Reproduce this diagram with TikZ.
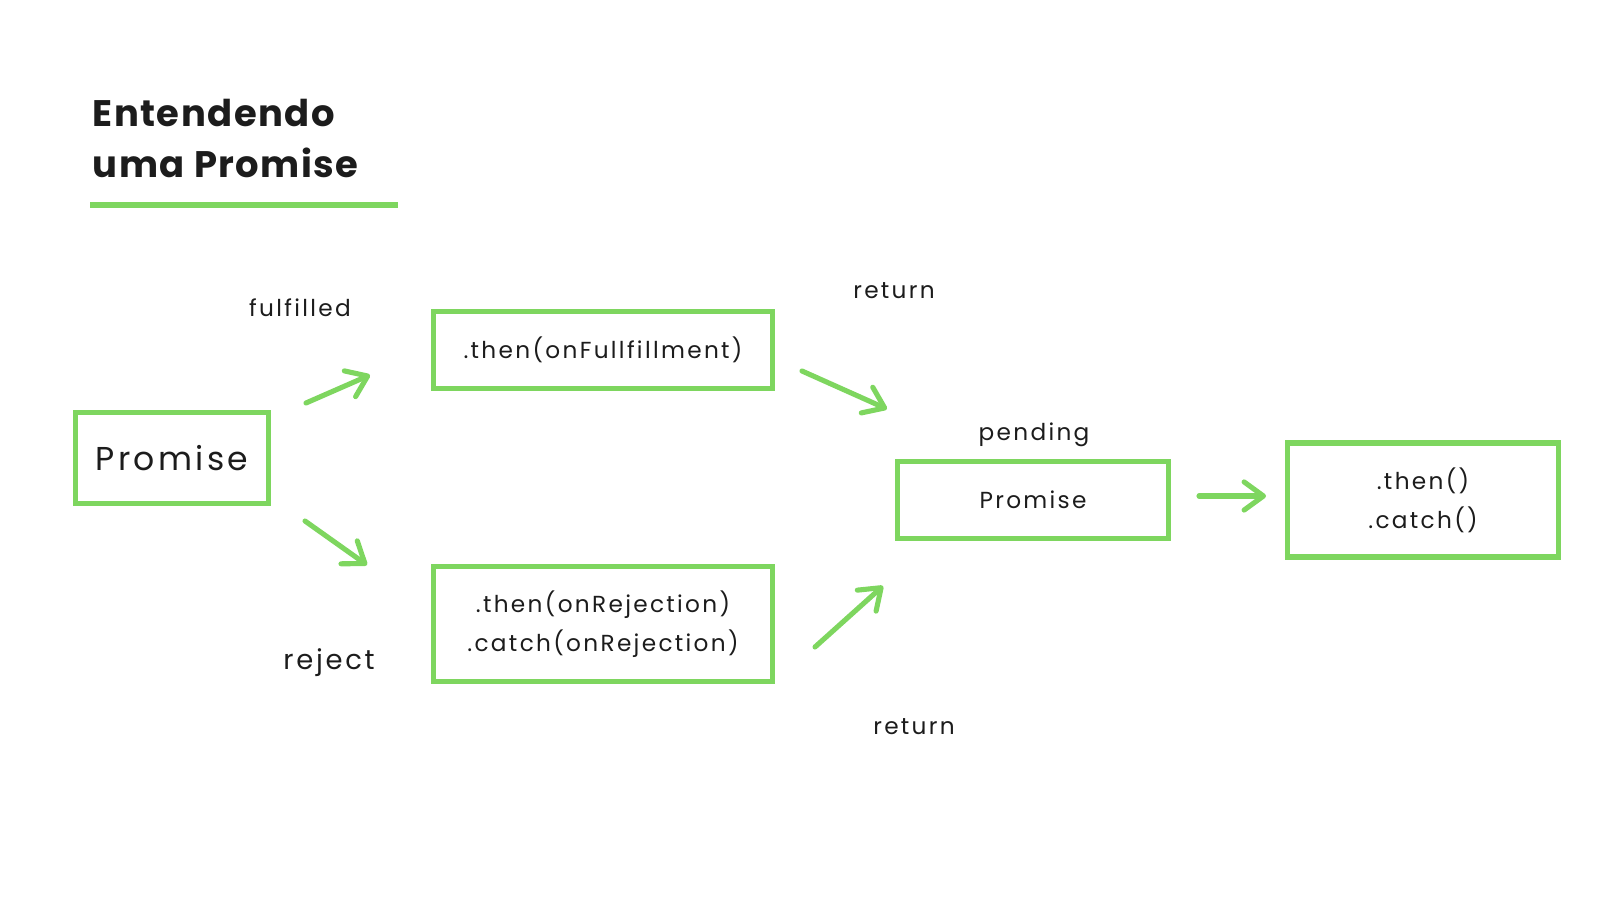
\documentclass[tikz,border=0pt]{standalone}
\usepackage{fontspec}
\setmainfont{Poppins}[LetterSpace=10]
\newfontfamily\titlefont{Poppins}[UprightFont=* Bold,LetterSpace=4]
\usetikzlibrary{arrows.meta}
\definecolor{promgreen}{RGB}{126,214,95}
\definecolor{inkblack}{RGB}{28,28,28}

\begin{document}
\begin{tikzpicture}[x=0.01cm,y=-0.01cm]
\tikzstyle{pbox}=[rectangle,draw=promgreen,line width=1.45pt,inner sep=0pt,align=center,text=inkblack,font=\fontsize{6.6}{11}\selectfont]
\tikzstyle{plabel}=[inner sep=0pt,text=inkblack,font=\fontsize{6.6}{11}\selectfont]
\tikzstyle{parrow}=[draw=promgreen,line width=1.45pt,line cap=round,-{Straight Barb[length=5.5pt,width=8pt,round]}]
\useasboundingbox (0,0) rectangle (1600,900);

% title
\node[anchor=base west,inner sep=0pt,text=inkblack,font=\titlefont\fontsize{10.5}{12}\selectfont] (title1) at (92,126) {Entendendo};
\node[anchor=base west,inner sep=0pt,text=inkblack,font=\titlefont\fontsize{10.5}{12}\selectfont] (title2) at (92,177) {uma Promise};
\draw[promgreen,line width=1.45pt] (90,205) -- (398,205);

% boxes
\node[pbox,minimum width=1.92cm,minimum height=0.91cm,font=\fontsize{9.4}{12}\selectfont] (prom) at (172,458) {Promise};
\node[pbox,minimum width=3.39cm,minimum height=0.77cm] (ful) at (603,350) {.then(onFullfillment)};
\node[pbox,minimum width=3.39cm,minimum height=1.15cm] (rej) at (603,624) {.then(onRejection)\\.catch(onRejection)};
\node[pbox,minimum width=2.70cm,minimum height=0.77cm] (pend) at (1033,500) {Promise};
\node[pbox,minimum width=2.70cm,minimum height=1.14cm] (tc) at (1423,500) {.then()\\.catch()};

% labels
\node[plabel] (lful) at (300,308) {fulfilled};
\node[plabel,font=\fontsize{7.8}{11}\selectfont] (lrej) at (329,663) {reject};
\node[plabel] (lret1) at (894,291) {return};
\node[plabel] (lret2) at (914,727) {return};
\node[plabel] (lpend) at (1034,435) {pending};

% arrows
\coordinate (a1s) at (306,403); \coordinate (a1e) at (370,375);
\coordinate (a2s) at (305,521); \coordinate (a2e) at (367,565);
\coordinate (a3s) at (802,371); \coordinate (a3e) at (887,409);
\coordinate (a4s) at (815,647); \coordinate (a4e) at (883,586);
\coordinate (a5s) at (1199,496); \coordinate (a5e) at (1266,496);
\draw[parrow] (a1s) -- (a1e);
\draw[parrow] (a2s) -- (a2e);
\draw[parrow] (a3s) -- (a3e);
\draw[parrow] (a4s) -- (a4e);
\draw[parrow] (a5s) -- (a5e);
\end{tikzpicture}
\end{document}
